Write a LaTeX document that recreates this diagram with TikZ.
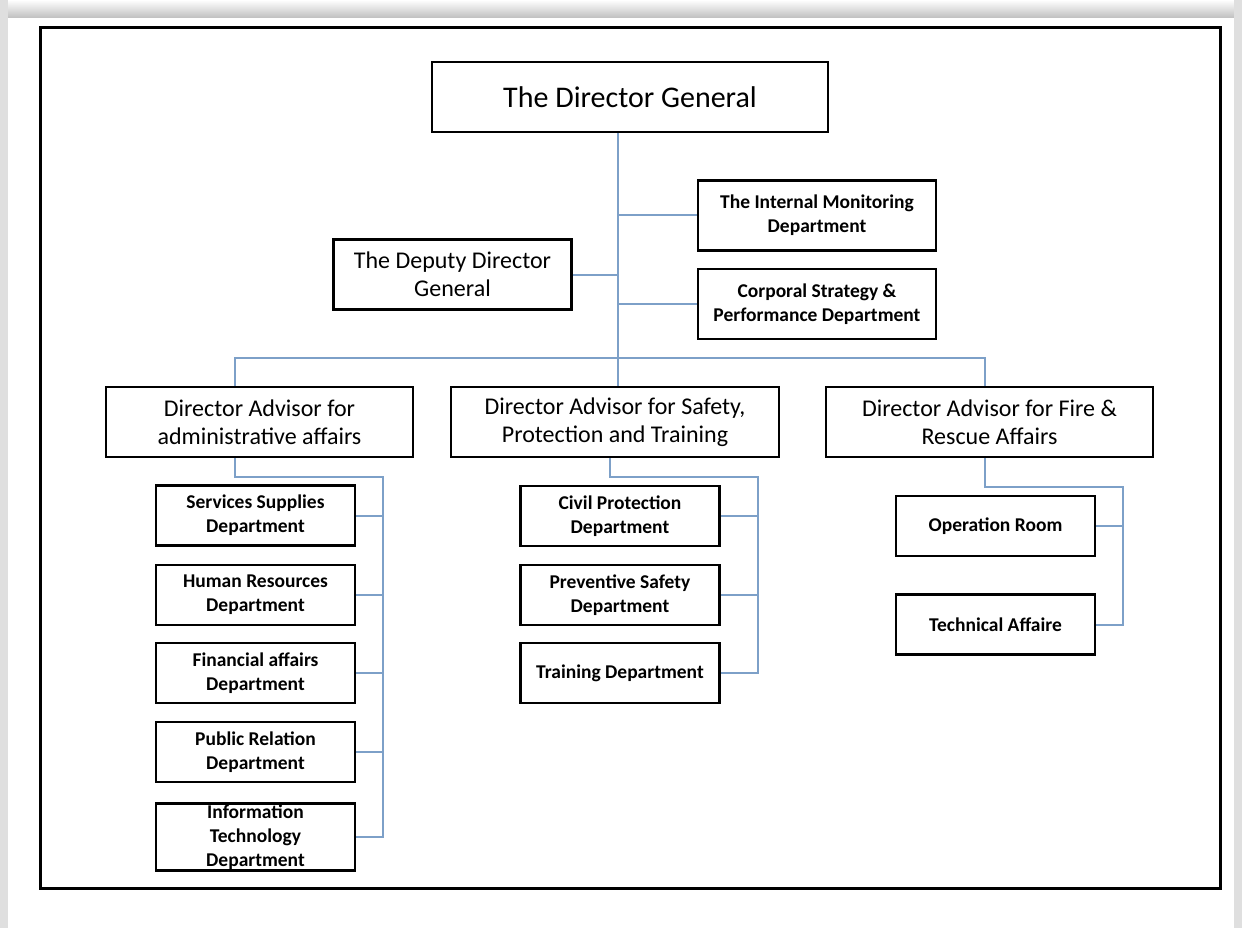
\documentclass[tikz,border=0pt]{standalone}
\usepackage{fontspec}
\setmainfont{Carlito}
\usetikzlibrary{positioning,calc}

\definecolor{linkblue}{RGB}{125,160,200}

\tikzset{
  box/.style={draw=black, line width=2.8pt, fill=white, align=center, inner sep=1pt},
  topbox/.style={box, minimum width=396pt, minimum height=70pt, font=\fontsize{30}{34}\selectfont},
  advbox/.style={box, minimum height=70pt, font=\fontsize{24}{28}\selectfont},
  sidebox/.style={box, minimum width=238pt, minimum height=70pt, font=\bfseries\fontsize{19.5}{24}\selectfont},
  deptbox/.style={box, minimum width=199pt, minimum height=60pt, font=\bfseries\fontsize{19.5}{24}\selectfont},
  link/.style={draw=linkblue, line width=2pt},
}

\begin{document}
\begin{tikzpicture}[x=1pt, y=-1pt]
  % page with its grey edge
  \fill[white] (0,0) rectangle (1242,928);
  \shade[top color=white, bottom color=gray!50] (0,0) rectangle (1242,18);
  \fill[gray!25] (0,0) rectangle (8,928);
  \fill[gray!25] (1234,0) rectangle (1242,928);
  \useasboundingbox (0,0) rectangle (1242,928);
  \draw[line width=3pt] (40,28) rectangle (1220,888);

  % top level
  \node[topbox] (dg) at (630,97) {The Director General};
  \node[sidebox] (intmon) at (817,215.5) {The Internal Monitoring\\Department};
  \node[advbox, minimum width=238pt] (deputy) at (452.5,274.5) {The Deputy Director\\General};
  \node[sidebox] (corp) at (817,304) {Corporal Strategy \&\\Performance Department};

  % advisors
  \node[advbox, minimum width=307pt] (admadv) at (259.5,422) {Director Advisor for\\administrative affairs};
  \node[advbox, minimum width=328pt] (safadv) at (615,422) {Director Advisor for Safety,\\Protection and Training};
  \node[advbox, minimum width=327pt] (fireadv) at (989.5,422) {Director Advisor for Fire \&\\Rescue Affairs};

  % departments
  \foreach \n/\y/\t in {sup/515.5/{Services Supplies\\Department},
                        hr/595/{Human Resources\\Department},
                        fin/673/{Financial affairs\\Department},
                        pr/752/{Public Relation\\Department},
                        it/837/{Information\\Technology\\Department}}
    \node[deptbox] (\n) at (255.5,\y) {\t};
  \foreach \n/\y/\t in {civ/516/{Civil Protection\\Department},
                        prev/595/{Preventive Safety\\Department},
                        train/673/{Training Department}}
    \node[deptbox] (\n) at (620,\y) {\t};
  \node[deptbox] (oproom) at (995.5,526) {Operation Room};
  \node[deptbox] (tech) at (995.5,624.5) {Technical Affaire};

  % connectors
  \coordinate (trunk) at (618,0);
  \draw[link] (dg.south -| trunk) -- (safadv.north -| trunk);
  \draw[link] (intmon.west) -- (intmon.west -| trunk);
  \draw[link] (deputy.east) -- (deputy.east -| trunk);
  \draw[link] (corp.west) -- (corp.west -| trunk);
  \coordinate (busL) at (235,358);
  \coordinate (busR) at (985,358);
  \draw[link] (admadv.north -| busL) -- (busL) -- (busR) -- (fireadv.north -| busR);

  \coordinate (aspine) at (383,477);
  \draw[link] (admadv.south -| busL) |- (aspine) -- (aspine |- it.east) -- (it.east);
  \foreach \n in {sup,hr,fin,pr}
    \draw[link] (\n.east) -- (\n.east -| aspine);

  \coordinate (sdrop) at (610,0);
  \coordinate (sspine) at (758,477);
  \draw[link] (safadv.south -| sdrop) |- (sspine) -- (sspine |- train.east) -- (train.east);
  \foreach \n in {civ,prev}
    \draw[link] (\n.east) -- (\n.east -| sspine);

  \coordinate (fspine) at (1123,487);
  \draw[link] (fireadv.south -| busR) |- (fspine) -- (fspine |- tech.east) -- (tech.east);
  \draw[link] (oproom.east) -- (oproom.east -| fspine);
\end{tikzpicture}
\end{document}
